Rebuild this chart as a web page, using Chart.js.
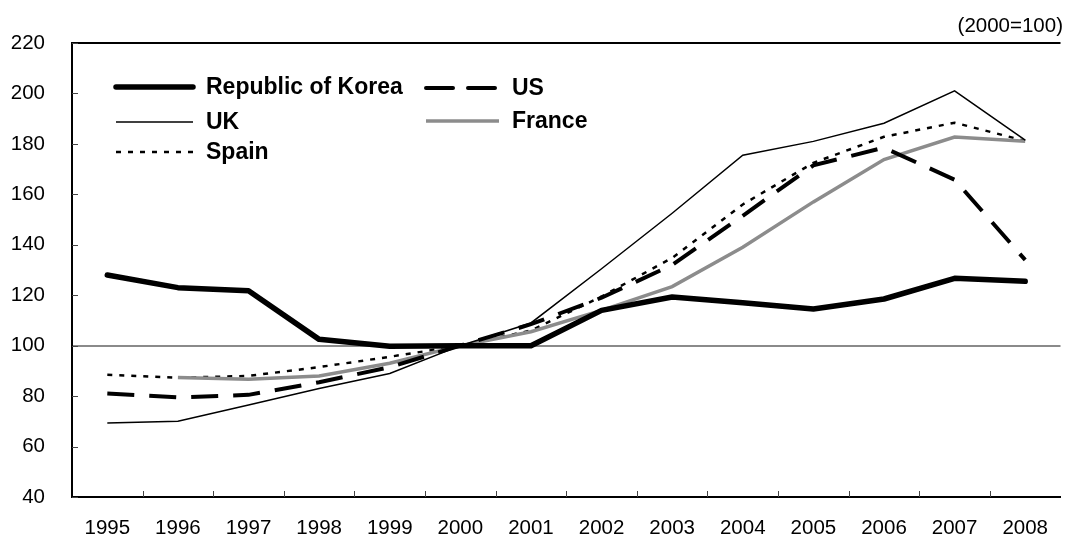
<!DOCTYPE html>
<html>
<head>
<meta charset="utf-8">
<script src="https://cdn.jsdelivr.net/npm/chart.js@4.4.1/dist/chart.umd.min.js"></script>
<style>
  body { margin: 0; background: #fff; }
  #wrap { width: 1067px; height: 538px; }
</style>
</head>
<body>
<div id="wrap"><canvas id="chart" width="1067" height="538"></canvas></div>
<script>
// data (2000 = 100)
const years = ['1995','1996','1997','1998','1999','2000','2001','2002','2003','2004','2005','2006','2007','2008'];
const korea  = [128, 123, 121.8, 102.5, 99.8, 100, 100, 114, 119.3, 117, 114.5, 118.5, 126.7, 125.5];
const us     = [81, 79.5, 80.5, 85.5, 91.5, 100, 108.5, 119, 132, 151.5, 171.5, 178.5, 165.8, 134];
const uk     = [69.3, 70, 76.5, 83, 89, 100, 109, 130.5, 152.5, 175.5, 181, 188.2, 201, 181.5];
const france = [null, 87.4, 86.7, 88, 93, 100, 105.5, 114, 123.4, 139, 157, 173.8, 182.7, 181];
const spain  = [88.5, 87.3, 88, 91.5, 95.6, 100, 106, 119.5, 134.8, 156, 172.5, 182.8, 188.4, 181.2];
const yTicks = [40, 60, 80, 100, 120, 140, 160, 180, 200, 220];
const unitNote = '(2000=100)';

const FONT = '"Liberation Sans", Arial, sans-serif';

// legend slots: [dataset index, line x start, line x end, row y]
const legendSlots = [
  [0, 116, 193, 87],
  [1, 426, 499, 88],
  [2, 116, 193, 122],
  [3, 426, 499, 121],
  [4, 116, 193, 152]
];

const extras = {
  id: 'extras',
  afterDatasetsDraw(chart) {
    const ctx = chart.ctx;
    const area = chart.chartArea;
    const x = chart.scales.x, y = chart.scales.y;
    ctx.save();

    // top frame line
    ctx.strokeStyle = '#000';
    ctx.lineWidth = 2;
    ctx.beginPath();
    ctx.moveTo(area.left - 1, area.top);
    ctx.lineTo(area.right, area.top);
    ctx.stroke();

    // inner tick marks
    ctx.lineWidth = 1;
    ctx.strokeStyle = '#444';
    yTicks.forEach(v => {
      const py = Math.round(y.getPixelForValue(v)) + 0.5;
      ctx.beginPath();
      ctx.moveTo(area.left, py);
      ctx.lineTo(area.left + 6, py);
      ctx.stroke();
    });
    for (let i = 1; i < years.length; i++) {
      const px = Math.round((x.getPixelForTick(i - 1) + x.getPixelForTick(i)) / 2) + 0.5;
      ctx.beginPath();
      ctx.moveTo(px, area.bottom);
      ctx.lineTo(px, area.bottom - 6);
      ctx.stroke();
    }

    // legend
    ctx.font = 'bold 23px ' + FONT;
    ctx.textBaseline = 'middle';
    ctx.fillStyle = '#000';
    legendSlots.forEach(([di, x0, x1, ly]) => {
      const ds = chart.data.datasets[di];
      ctx.strokeStyle = ds.borderColor;
      ctx.lineWidth = ds.borderWidth;
      ctx.lineCap = ds.borderWidth >= 4 ? 'round' : 'butt';
      ctx.setLineDash(ds.borderDash || []);
      ctx.beginPath();
      ctx.moveTo(x0, ly);
      ctx.lineTo(x1, ly);
      ctx.stroke();
      ctx.setLineDash([]);
      ctx.fillText(ds.label, x1 + 13, ly + 1);
    });

    // unit note
    ctx.font = '20.5px ' + FONT;
    ctx.textAlign = 'right';
    ctx.fillText(unitNote, 1063, 26);
    ctx.restore();
  }
};

new Chart(document.getElementById('chart'), {
  type: 'line',
  data: {
    labels: years,
    datasets: [
      { label: 'Republic of Korea', data: korea, borderColor: '#000', borderWidth: 5.5, borderCapStyle: 'round', borderJoinStyle: 'round' },
      { label: 'US', data: us, borderColor: '#000', borderWidth: 4, borderDash: [27, 15] },
      { label: 'UK', data: uk, borderColor: '#000', borderWidth: 1.5 },
      { label: 'France', data: france, borderColor: '#8c8c8c', borderWidth: 3.5 },
      { label: 'Spain', data: spain, borderColor: '#000', borderWidth: 2.5, borderDash: [5, 7] }
    ]
  },
  options: {
    responsive: false,
    animation: false,
    layout: { padding: { top: 43, right: 0, bottom: 0, left: 0 } },
    elements: { point: { radius: 0 }, line: { tension: 0, fill: false } },
    plugins: { legend: { display: false }, tooltip: { enabled: false } },
    scales: {
      x: {
        type: 'category',
        offset: true,
        grid: { display: false, drawTicks: false },
        border: { display: true, color: '#000', width: 2 },
        ticks: { color: '#000', font: { family: FONT, size: 20.5 }, padding: 19, maxRotation: 0, autoSkip: false },
        afterFit(s) { s.height = 41; }
      },
      y: {
        min: 40,
        max: 220,
        afterBuildTicks(s) { s.ticks = yTicks.map(v => ({ value: v })); },
        grid: {
          drawTicks: false,
          color: c => (c.tick && c.tick.value === 100 ? '#8a8a8a' : 'rgba(0,0,0,0)'),
          lineWidth: 2
        },
        border: { display: true, color: '#000', width: 2 },
        ticks: { color: '#000', font: { family: FONT, size: 20.5 }, padding: 27 },
        afterFit(s) { s.width = 72; }
      }
    }
  },
  plugins: [extras]
});
</script>
</body>
</html>
